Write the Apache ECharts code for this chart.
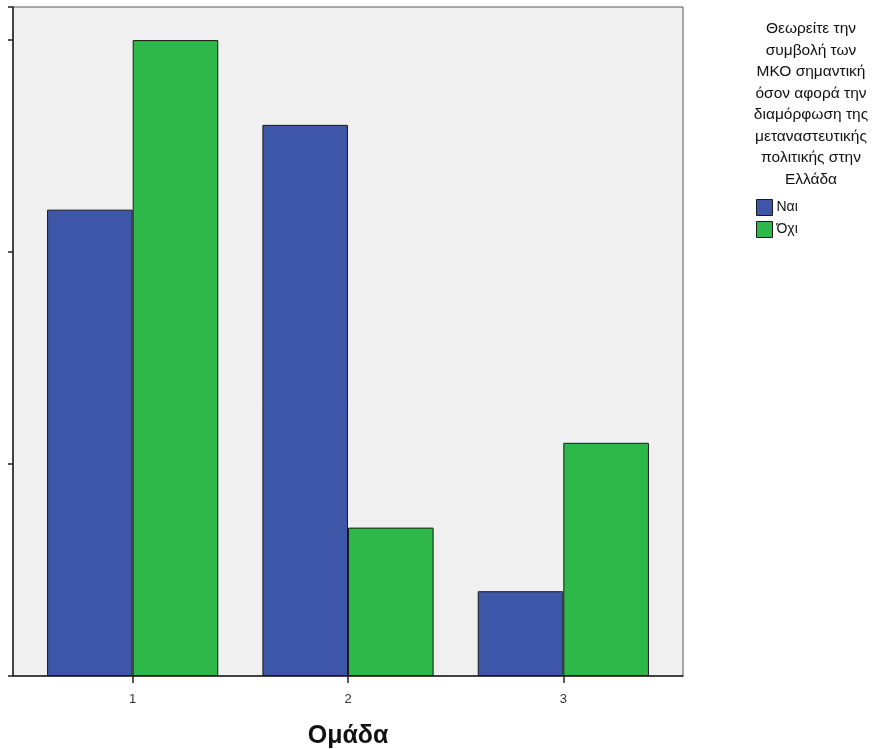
<!DOCTYPE html>
<html><head><meta charset="utf-8">
<script src="https://cdn.jsdelivr.net/npm/echarts@6/dist/echarts.min.js"></script>
<style>html,body{margin:0;padding:0;background:#fff}#c{width:880px;height:749px}</style>
</head><body><div id="c"></div>
<script>
const categories = ['1', '2', '3'];
const seriesNames = ['Ναι', 'Όχι'];
const valuesNai = [22, 26, 4];
const valuesOxi = [30, 7, 11];
const legendTitle = 'Θεωρείτε την\nσυμβολή των\nΜΚΟ σημαντική\nόσον αφορά την\nδιαμόρφωση της\nμεταναστευτικής\nπολιτικής στην\nΕλλάδα';
const xAxisName = 'Ομάδα';

const chart = echarts.init(document.getElementById('c'), null, {renderer: 'canvas'});
chart.setOption({
  animation: false,
  backgroundColor: '#ffffff',
  title: {
    text: legendTitle,
    left: 811, top: 18, textAlign: 'center', padding: 0,
    textStyle: {fontFamily: 'Liberation Sans', fontSize: 15.5, fontWeight: 'normal', color: '#111', lineHeight: 21.5}
  },
  legend: {
    orient: 'vertical', left: 756, top: 199, padding: 0,
    itemWidth: 16, itemHeight: 16, itemGap: 5,
    icon: 'rect',
    itemStyle: {borderColor: '#1a1a1a', borderWidth: 1},
    textStyle: {fontFamily: 'Liberation Sans', fontSize: 14, color: '#111', padding: [0,0,0,-1]},
    data: seriesNames
  },
  grid: [
    {left: 13, right: 197, top: 7, bottom: 73, outerBoundsMode: 'none', containLabel: false, show: true, backgroundColor: '#f0f0f0', borderColor: '#555', borderWidth: 1},
    {left: 25, right: 209, top: 7, bottom: 73, outerBoundsMode: 'none', containLabel: false}
  ],
  xAxis: [
    {gridIndex: 0, type: 'value', min: 0, max: 1, axisLine: {show: true, lineStyle: {color: '#222', width: 1.5}},
     axisTick: {show: false}, axisLabel: {show: false}, splitLine: {show: false}},
    {gridIndex: 1, type: 'category', data: categories,
     axisLine: {show: false},
     axisTick: {show: true, alignWithLabel: true, length: 7, lineStyle: {color: '#222', width: 1.5}},
     axisLabel: {fontFamily: 'Liberation Sans', fontSize: 13, color: '#333', margin: 17},
     name: xAxisName, nameLocation: 'middle', nameGap: 48,
     nameTextStyle: {fontFamily: 'Liberation Sans', fontSize: 25, fontWeight: 'bold', color: '#111'}}
  ],
  yAxis: [
    {gridIndex: 0, type: 'value', min: 0, max: 1, axisLine: {show: true, lineStyle: {color: '#222', width: 1.5}},
     axisTick: {show: false}, axisLabel: {show: false}, splitLine: {show: false}},
    {gridIndex: 1, type: 'value', min: 0, max: 31.56, interval: 10, offset: 12,
     axisLine: {show: false},
     axisTick: {show: true, length: 5, lineStyle: {color: '#222', width: 1.5}},
     axisLabel: {show: false}, splitLine: {show: false}}
  ],
  series: [
    {name: seriesNames[0], type: 'bar', xAxisIndex: 1, yAxisIndex: 1, data: valuesNai,
     barGap: '0%', barCategoryGap: '20.5%',
     itemStyle: {color: '#3d56a8', borderColor: '#1a1a1a', borderWidth: 1}},
    {name: seriesNames[1], type: 'bar', xAxisIndex: 1, yAxisIndex: 1, data: valuesOxi,
     barGap: '0%', barCategoryGap: '20.5%',
     itemStyle: {color: '#2fb84a', borderColor: '#1a1a1a', borderWidth: 1}}
  ]
});
</script></body></html>
